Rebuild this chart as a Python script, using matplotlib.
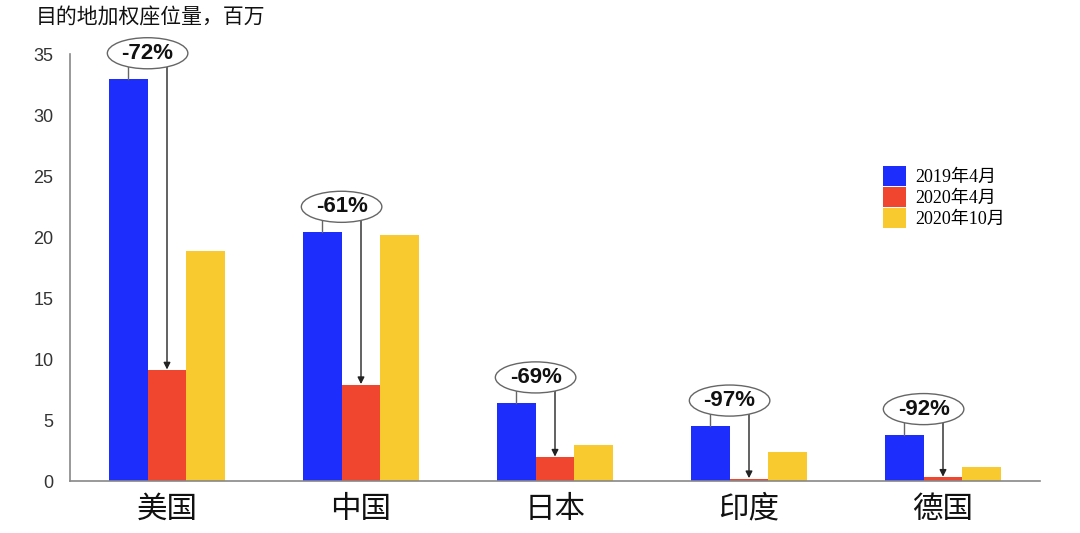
import numpy as np
import matplotlib
matplotlib.use("Agg")
import matplotlib.pyplot as plt
from matplotlib.patches import Ellipse, Patch

plt.rcParams['font.family'] = ['Liberation Sans', 'Noto Sans CJK SC', 'DejaVu Sans']

# data
countries = ['美国', '中国', '日本', '印度', '德国']
series_names = ['2019年4月', '2020年4月', '2020年10月']
seats_2019_apr = [33.0, 20.4, 6.4, 4.5, 3.8]
seats_2020_apr = [9.1, 7.9, 1.95, 0.18, 0.3]
seats_2020_oct = [18.9, 20.2, 2.95, 2.4, 1.15]
change_labels = ['-72%', '-61%', '-69%', '-97%', '-92%']
yticks = [0, 5, 10, 15, 20, 25, 30, 35]

colors = ['#1c2dfc', '#f0452f', '#f9c930']

fig = plt.figure(figsize=(10.8, 5.33), dpi=100)
ax = fig.add_axes([70 / 1080, (533 - 481) / 533, 970 / 1080, (481 - 24) / 533])

x = np.arange(len(countries))
w = 0.2
series = [seats_2019_apr, seats_2020_apr, seats_2020_oct]
for i, (vals, c) in enumerate(zip(series, colors)):
    ax.bar(x + (i - 1) * w, vals, width=w, color=c, zorder=2)

ax.set_xlim(-0.5, 4.5)
ax.set_ylim(0, 37.5)
ax.set_yticks(yticks)
ax.set_xticks(x)
ax.set_xticklabels(countries, fontsize=22, family=['Noto Sans CJK SC'], color='#111')
ax.tick_params(axis='x', length=0, pad=9)
ax.tick_params(axis='y', length=0, pad=12, labelsize=13, labelcolor='#333')

for s in ['top', 'right']:
    ax.spines[s].set_visible(False)
ax.spines['left'].set_bounds(0, 35)
for s in ['left', 'bottom']:
    ax.spines[s].set_color('#888')
    ax.spines[s].set_linewidth(1.2)

# ellipse callouts
eh = 2.55
ew = 0.415
for i in range(len(countries)):
    top = seats_2019_apr[i]
    cy = top + 2.1
    cx = x[i] - 0.1
    ax.add_patch(Ellipse((cx, cy), ew, eh, facecolor='white', edgecolor='#666',
                         lw=1.0, zorder=4, clip_on=False))
    ax.text(cx, cy, change_labels[i], ha='center', va='center', fontsize=16,
            fontweight='bold', color='#111', zorder=5)
    # connector to blue bar
    xb = x[i] - w
    yb = cy - eh / 2 * np.sqrt(1 - ((xb - cx) / (ew / 2)) ** 2)
    ax.plot([xb, xb], [yb, top], color='#666', lw=1.0, zorder=3)
    # arrow to red bar
    xr = x[i]
    yr = cy - eh / 2 * np.sqrt(1 - ((xr - cx) / (ew / 2)) ** 2)
    ax.annotate('', xy=(xr, seats_2020_apr[i] + 0.05), xytext=(xr, yr),
                arrowprops=dict(arrowstyle='-|>', color='#222', lw=1.0,
                                mutation_scale=10, shrinkA=0, shrinkB=0), zorder=3)

fig.text(36 / 1080, 1 - 18 / 533, '目的地加权座位量，百万', fontsize=15,
         family=['Noto Sans CJK SC'], color='#111', va='center', ha='left')

handles = [Patch(facecolor=c, edgecolor='none') for c in colors]
leg = fig.legend(handles, series_names, loc='upper left',
                 bbox_to_anchor=(867 / 1080, 1 - 150 / 533), frameon=False,
                 prop={'family': ['Liberation Serif', 'Noto Sans CJK SC'], 'size': 13},
                 handlelength=1.25, handleheight=1.3, handletextpad=0.55, labelspacing=0.05)

fig.savefig('out.png', dpi=100)
